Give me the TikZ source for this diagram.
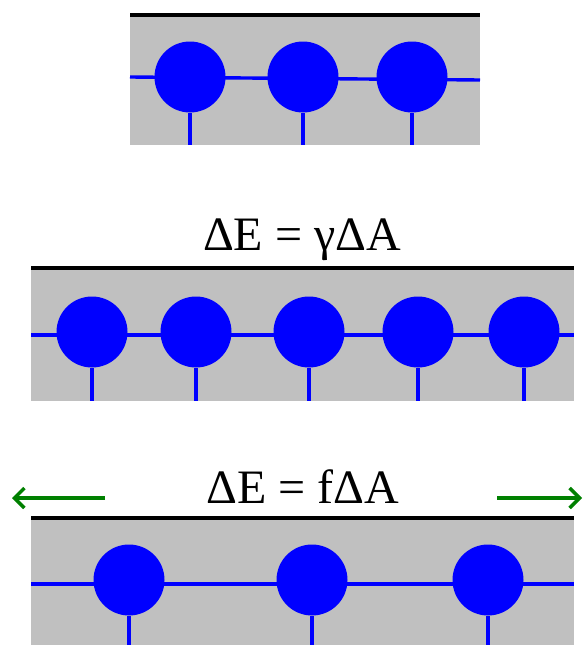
\documentclass[tikz,border=0pt]{standalone}
\usepackage{fontspec}
\setmainfont{Liberation Serif}
\usetikzlibrary{arrows.meta}
\definecolor{film}{RGB}{192,192,192}
\definecolor{pull}{RGB}{0,128,0}
\begin{document}
\begin{tikzpicture}[x=1pt,y=-1pt,
head/.style={circle, fill=blue, minimum size=71pt, inner sep=0pt},
tail/.style={draw=blue, line width=3.4pt},
surface/.style={line width=4pt},
formula/.style={font=\fontsize{48}{56}\selectfont, inner sep=0pt, anchor=base},
stretch/.style={draw=pull, line width=3.4pt, -{Straight Barb[length=10pt,width=20pt,line width=3.4pt]}}
]
\useasboundingbox (0,0) rectangle (584,645);
% relaxed film
\fill[film] (130,17) rectangle (480,145);
\draw[surface] (130,15) -- (480,15);
\coordinate (a0) at (130,77);
\coordinate (a4) at (480,80);
\coordinate (abot) at (0,145);
\draw[tail] (a0) -- (a4);
\node[head] (a1) at (190,77) {};
\node[head] (a2) at (303,77) {};
\node[head] (a3) at (412,77) {};
\foreach \i in {1,2,3}
  \draw[tail] (a\i.south) -- (a\i |- abot);
% film with more molecules
\node[formula] (gam) at (302,250) {ΔE = γΔA};
\fill[film] (31,270) rectangle (574,401);
\draw[surface] (31,268) -- (574,268);
\coordinate (b0) at (31,335);
\coordinate (b6) at (574,335);
\coordinate (bbot) at (0,401);
\draw[tail] (b0) -- (b6);
\foreach \i/\x in {1/92,2/196,3/309,4/418,5/524}
  \node[head] (b\i) at (\x,332) {};
\foreach \i in {1,...,5}
  \draw[tail] (b\i.south) -- (b\i |- bbot);
% stretched film
\node[formula] (eff) at (303,503) {ΔE = fΔA};
\coordinate (l0) at (105,498);
\coordinate (l1) at (12,498);
\coordinate (r0) at (497,498);
\coordinate (r1) at (582,498);
\draw[stretch] (l0) -- (l1);
\draw[stretch] (r0) -- (r1);
\fill[film] (31,520) rectangle (574,645);
\draw[surface] (31,518) -- (574,518);
\coordinate (c0) at (31,584);
\coordinate (c4) at (574,584);
\coordinate (cbot) at (0,645);
\draw[tail] (c0) -- (c4);
\foreach \i/\x in {1/129,2/312,3/488}
  \node[head] (c\i) at (\x,580) {};
\foreach \i in {1,2,3}
  \draw[tail] (c\i.south) -- (c\i |- cbot);
\end{tikzpicture}
\end{document}
